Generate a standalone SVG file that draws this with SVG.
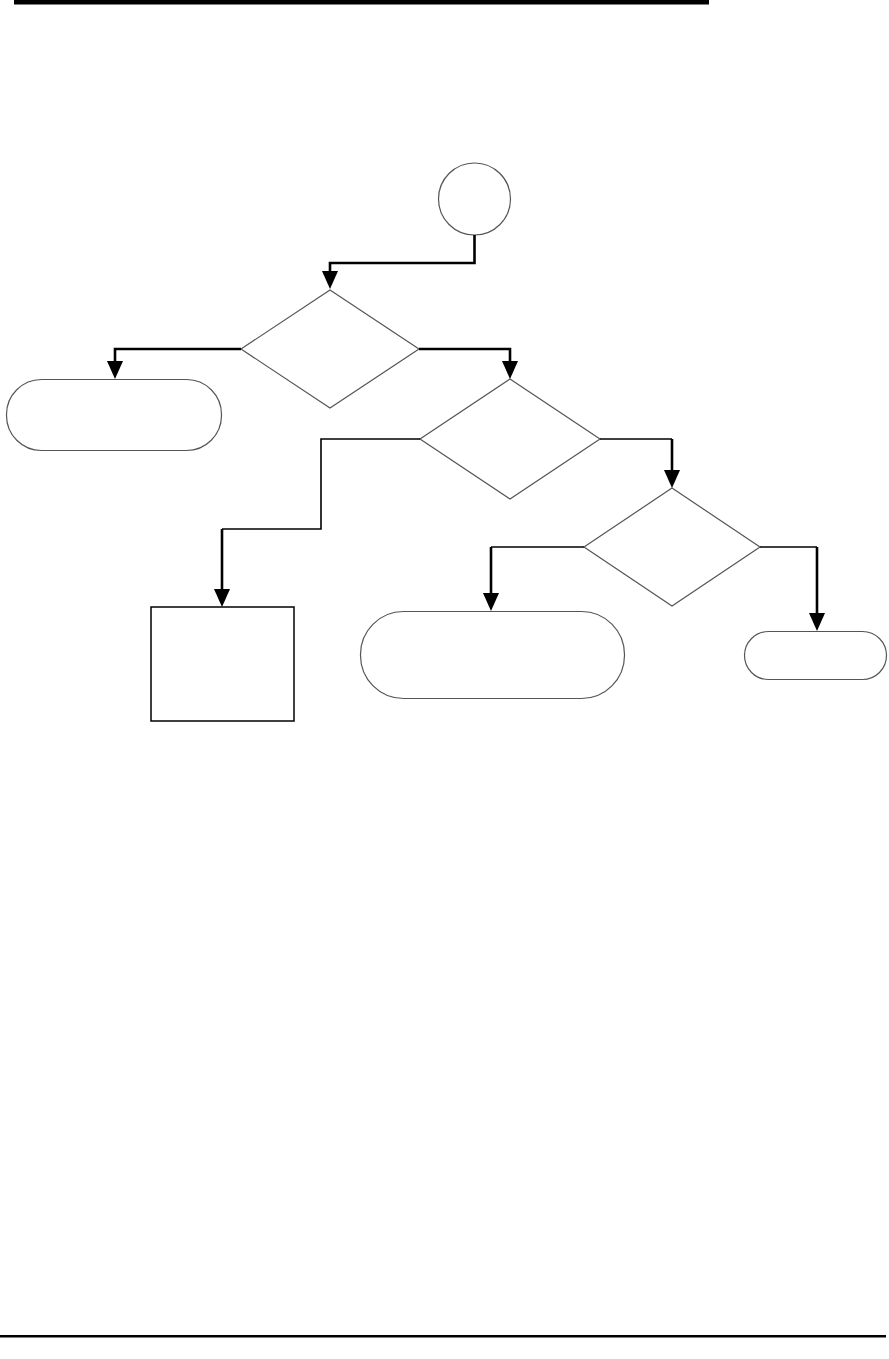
<svg xmlns="http://www.w3.org/2000/svg" width="889" height="1359" viewBox="0 0 889 1359">
<defs>
<style>
.node{fill:#fff;stroke:#555;stroke-width:1.2}
.box{fill:#fff;stroke:#000;stroke-width:1.5}
.c{fill:none;stroke:#000;stroke-width:2.6;stroke-linejoin:miter}
.t{fill:none;stroke:#000;stroke-width:1.6}
.ah{fill:#000}
</style>
<polygon id="arrow" class="ah" points="-8,-18 8,-18 0,0"/>
</defs>
<rect x="0" y="0" width="889" height="1359" fill="#fff"/>
<rect x="14" y="0" width="695" height="4.5" fill="#000"/>
<rect x="0" y="1335" width="886" height="2.5" fill="#000"/>
<g id="start"><circle class="node" cx="474.5" cy="199" r="36"/></g>
<g id="decision1"><polygon class="node" points="330,290 419,349 330,408 241,349"/></g>
<g id="terminal1"><rect class="node" x="6.5" y="379.5" width="215" height="71" rx="35" ry="35"/></g>
<g id="decision2"><polygon class="node" points="510,379 600,439 510,499 420,439"/></g>
<g id="decision3"><polygon class="node" points="672,488 760,547 672,606 584,547"/></g>
<g id="process1"><rect class="box" x="151" y="607" width="143" height="114"/></g>
<g id="terminal2"><rect class="node" x="360.5" y="611.5" width="264" height="87" rx="43" ry="43"/></g>
<g id="terminal3"><rect class="node" x="744.5" y="631.5" width="142" height="48" rx="24" ry="24"/></g>
<g id="connectors">
<path class="c" d="M474.5,235 V263 H330 V272"/>
<use href="#arrow" x="330" y="289"/>
<path class="c" d="M241,349 H115 V362"/>
<use href="#arrow" x="115" y="379"/>
<path class="c" d="M419,349 H510 V362"/>
<use href="#arrow" x="510" y="379"/>
<path class="t" d="M600,439 H672"/>
<path class="c" d="M672,439 V471"/>
<use href="#arrow" x="672" y="488"/>
<path class="t" d="M420,439 H321 V529 H222"/>
<path class="c" d="M222,529 V590"/>
<use href="#arrow" x="222" y="607"/>
<path class="t" d="M584,547 H491"/>
<path class="c" d="M491,547 V594"/>
<use href="#arrow" x="491" y="611"/>
<path class="t" d="M760,547 H817"/>
<path class="c" d="M817,547 V614"/>
<use href="#arrow" x="817" y="631"/>
</g>
</svg>
